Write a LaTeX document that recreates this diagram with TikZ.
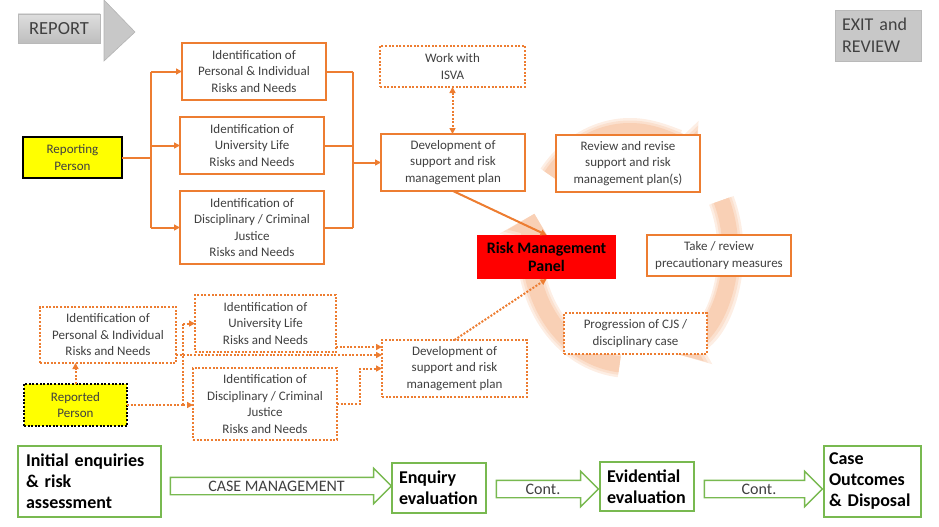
\documentclass[tikz,border=0pt]{standalone}
\usepackage{fontspec}
\setmainfont{Carlito}
\usetikzlibrary{arrows.meta,shapes.arrows}
\definecolor{org}{RGB}{237,125,49}
\definecolor{grn}{RGB}{120,185,80}
\definecolor{txt}{RGB}{64,64,64}
\definecolor{gry}{RGB}{200,200,200}
\definecolor{ylw}{RGB}{255,255,0}
\definecolor{rmpred}{RGB}{255,0,0}
\begin{document}
\begin{tikzpicture}[x=1pt,y=-1pt,
  every node/.style={inner sep=0pt, outer sep=0pt, text=txt, font=\fontsize{13}{16.5}\selectfont, align=center},
  obox/.style={draw=org, line width=2pt, fill=white},
  dbox/.style={draw=org, line width=2pt, fill=white, dash pattern=on 2pt off 1.6pt},
  conn/.style={draw=org, line width=2pt},
  dconn/.style={draw=org, line width=2pt, dash pattern=on 2pt off 1.6pt},
  tip/.style={-{Triangle[length=6pt,width=6pt]}},
  gbox/.style={draw=grn, line width=1.6pt, fill=white, font=\fontsize{18}{21}\selectfont\bfseries, text=black, align=left},
  garrow/.style={single arrow, draw=grn, line width=1.4pt, fill=white, single arrow head extend=9pt,
    minimum width=34pt, text height=11pt, text depth=1pt, inner ysep=2pt, font=\fontsize{16}{18}\selectfont},
  cyc1/.style={line width=26pt, draw=org!13, -{Triangle[length=28pt,width=56pt]}},
  cyc2/.style={line width=21pt, draw=org!24, -{Triangle[length=25pt,width=49pt]}},
  cyc3/.style={line width=16pt, draw=org!36, -{Triangle[length=22pt,width=42pt]}}
]
\useasboundingbox (0,0) rectangle (939,527);

% cycle arrows
\coordinate (cc) at (630,248);
\foreach \a/\b in {218/312, 336/424, 96/197} {
  \draw[cyc1] (cc) ++(\a:100 and 117) arc[start angle=\a, end angle=\b, x radius=100, y radius=117];
  \draw[cyc2] (cc) ++(\a:100 and 117) arc[start angle=\a, end angle=\b, x radius=100, y radius=117];
  \draw[cyc3] (cc) ++(\a:100 and 117) arc[start angle=\a, end angle=\b, x radius=100, y radius=117];
}

% gray header elements
\node[top color={rgb,255:red,222;green,222;blue,222}, bottom color={rgb,255:red,190;green,190;blue,190},
  draw={rgb,255:red,185;green,185;blue,185}, line width=0.6pt,
  minimum width=82pt, minimum height=29pt, font=\fontsize{18.5}{20}\selectfont] (report) at (59,28.5) {REPORT};
\fill[gry, draw={rgb,255:red,180;green,180;blue,180}, line width=0.6pt] (104,0) -- (135,32) -- (104,61) -- cycle;
\node[fill=gry, draw={rgb,255:red,185;green,185;blue,185}, line width=0.6pt, minimum width=86pt, minimum height=51pt,
  text width=72pt, align=left, font=\fontsize{18}{22}\selectfont] (exit) at (878,35.5) {EXIT and\\REVIEW};

% upper part
\node[draw=black, line width=2pt, fill=ylw, minimum width=99pt, minimum height=41pt] (rep) at (72.5,157.5) {Reporting\\Person};
\node[obox, minimum width=144pt, minimum height=57pt] (pi1) at (254,71.5) {Identification of\\Personal \& Individual\\Risks and Needs};
\node[obox, minimum width=144pt, minimum height=57pt] (ul1) at (252,145.5) {Identification of\\University Life\\Risks and Needs};
\node[obox, minimum width=144pt, minimum height=73pt] (dc1) at (252,227.5) {Identification of\\Disciplinary / Criminal\\Justice\\Risks and Needs};
\node[obox, minimum width=144pt, minimum height=57pt] (dev1) at (453,162.5) {Development of\\support and risk\\management plan};
\node[dbox, minimum width=145pt, minimum height=41pt] (isva) at (452.5,66.5) {Work with\\ISVA};
\node[fill=rmpred, minimum width=139pt, minimum height=44pt, text=black, font=\fontsize{16}{18}\selectfont\bfseries] (rmp) at (546.5,257) {Risk Management\\Panel};
\node[obox, minimum width=144pt, minimum height=57pt] (rev) at (628,163.5) {Review and revise\\support and risk\\management plan(s)};
\node[obox, minimum width=144pt, minimum height=41pt] (take) at (719,255.5) {Take / review\\precautionary measures};
\node[dbox, minimum width=143pt, minimum height=41pt] (prog) at (635.5,333.5) {Progression of CJS /\\disciplinary case};

\coordinate (sl) at (151,0);
\coordinate (sr) at (353,0);
\draw[conn] (rep.east) -- (rep.east -| sl);
\draw[conn] (sl |- pi1.west) -- (sl |- dc1.west);
\draw[conn,tip] (sl |- pi1.west) -- (pi1.west);
\draw[conn,tip] (sl |- ul1.west) -- (ul1.west);
\draw[conn,tip] (sl |- dc1.west) -- (dc1.west);
\draw[conn] (pi1.east) -- (pi1.east -| sr);
\draw[conn] (ul1.east) -- (ul1.east -| sr);
\draw[conn] (dc1.east) -- (dc1.east -| sr);
\draw[conn] (sr |- pi1.east) -- (sr |- dc1.east);
\draw[conn,tip] (sr |- dev1.west) -- (dev1.west);
\draw[dconn,{Triangle[length=6pt,width=6pt]}-{Triangle[length=6pt,width=6pt]}] (isva.south) -- (isva.south |- dev1.north);
\draw[conn,tip] (dev1.south) -- (rmp.north);

% lower part
\node[draw=black, line width=2pt, dash pattern=on 2pt off 1.6pt, fill=ylw, minimum width=103pt, minimum height=42pt] (repd) at (75.5,405) {Reported\\Person};
\node[dbox, minimum width=136pt, minimum height=56pt] (pi2) at (108,335) {Identification of\\Personal \& Individual\\Risks and Needs};
\node[dbox, minimum width=141pt, minimum height=57pt] (ul2) at (265.5,323.5) {Identification of\\University Life\\Risks and Needs};
\node[dbox, minimum width=144pt, minimum height=72pt] (dc2) at (265,404) {Identification of\\Disciplinary / Criminal\\Justice\\Risks and Needs};
\node[dbox, minimum width=145pt, minimum height=57pt] (dev2) at (454.5,368.5) {Development of\\support and risk\\management plan};

\coordinate (jx) at (183,0);
\coordinate (jr) at (360,0);
\draw[dconn,tip] (repd.north) -- (repd.north |- pi2.south);
\draw[dconn] (repd.east) -- (repd.east -| jx);
\draw[dconn,tip] (repd.east -| jx) -- (repd.east -| dc2.west);
\draw[dconn] (repd.east -| jx) -- (jx |- ul2.west);
\draw[dconn,tip] (jx |- ul2.west) -- (ul2.west);
\draw[dconn,tip] ([yshift=8pt]pi2.south east) -- ([yshift=8pt]pi2.south east -| dev2.west);
\draw[dconn,tip] ([yshift=5pt]ul2.south east) -- ([yshift=5pt]ul2.south east -| dev2.west);
\draw[dconn,tip] (dc2.east) -- (dc2.east -| jr) -- (jr |- dev2.west) -- (dev2.west);
\draw[dconn,tip] (dev2.north) -- (rmp.south);

% bottom process row
\node[gbox, minimum width=143pt, minimum height=71pt, text width=127pt] (init) at (89.5,481.5) {Initial enquiries\\\& risk\\assessment};
\node[gbox, minimum width=94pt, minimum height=50pt, text width=80pt] (enq) at (439,488) {Enquiry\\evaluation};
\node[gbox, minimum width=94pt, minimum height=49pt, text width=80pt] (evid) at (647,486.5) {Evidential\\evaluation};
\node[gbox, minimum width=97pt, minimum height=71pt, text width=87pt] (case) at (872.5,481.5) {Case\\Outcomes\\\& Disposal};
\node[garrow, minimum height=221pt] (a1) at (276.5,486) {CASE MANAGEMENT};
\node[garrow, minimum height=102pt] (a2) at (543,489) {Cont.};
\node[garrow, minimum height=118pt] (a3) at (759,489) {Cont.};
\end{tikzpicture}
\end{document}
